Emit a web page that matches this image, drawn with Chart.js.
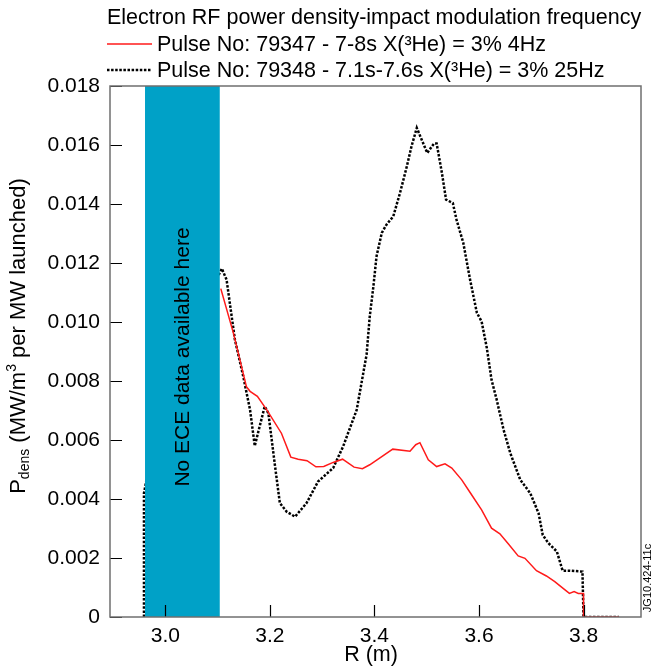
<!DOCTYPE html>
<html>
<head>
<meta charset="utf-8">
<script src="https://cdn.jsdelivr.net/npm/chart.js@4"></script>
<style>
html,body{margin:0;padding:0;background:#fff;}
#c{display:block;}
</style>
</head>
<body>
<canvas id="c" width="654" height="671"></canvas>
<script>
// ---- data ----
const chartTitle = "Electron RF power density-impact modulation frequency";
const seriesNames = ["Pulse No: 79347 - 7-8s X(\u00B3He) = 3% 4Hz", "Pulse No: 79348 - 7.1s-7.6s X(\u00B3He) = 3% 25Hz"];
const xTicks = [3.0, 3.2, 3.4, 3.6, 3.8];
const xTickLabels = ["3.0", "3.2", "3.4", "3.6", "3.8"];
const yTicks = [0, 0.002, 0.004, 0.006, 0.008, 0.010, 0.012, 0.014, 0.016, 0.018];
const yTickLabels = ["0", "0.002", "0.004", "0.006", "0.008", "0.010", "0.012", "0.014", "0.016", "0.018"];
const noDataBand = [2.961, 3.104];
const noDataText = "No ECE data available here";

const xRed = [3.106,3.130,3.155,3.162,3.176,3.194,3.222,3.240,3.254,3.271,3.288,3.303,3.321,3.339,3.361,3.377,3.391,3.414,3.435,3.468,3.479,3.487,3.503,3.519,3.535,3.548,3.567,3.583,3.605,3.624,3.640,3.656,3.675,3.688,3.710,3.729,3.745,3.761,3.773,3.782,3.790,3.800,3.800,3.868];
const yRed = [0.01113,0.00963,0.00781,0.00765,0.00748,0.00702,0.00623,0.00542,0.00535,0.00530,0.00509,0.00510,0.00524,0.00535,0.00508,0.00503,0.00516,0.00544,0.00569,0.00562,0.00584,0.00591,0.00533,0.00510,0.00519,0.00505,0.00465,0.00422,0.00363,0.00301,0.00282,0.00248,0.00207,0.00199,0.00157,0.00139,0.00120,0.00097,0.00080,0.00086,0.00080,0.00080,0,0];

const xBlack = [2.959,2.959,3.000,3.108,3.117,3.133,3.149,3.162,3.171,3.190,3.197,3.209,3.219,3.232,3.248,3.270,3.292,3.321,3.340,3.366,3.385,3.391,3.398,3.404,3.414,3.423,3.436,3.449,3.462,3.471,3.481,3.501,3.514,3.519,3.529,3.537,3.550,3.557,3.570,3.583,3.596,3.605,3.615,3.624,3.634,3.647,3.660,3.679,3.698,3.714,3.722,3.733,3.749,3.760,3.774,3.798,3.800,3.868];
const yBlack = [0,0.0042,0.0080,0.01181,0.01144,0.00940,0.00815,0.00702,0.00580,0.00714,0.00691,0.00522,0.00386,0.00357,0.00340,0.00386,0.00459,0.00505,0.00578,0.00702,0.00890,0.01019,0.01121,0.01223,0.01302,0.01330,0.01358,0.01438,0.01528,0.01596,0.01658,0.01573,0.01605,0.01605,0.01506,0.01415,0.01403,0.01347,0.01268,0.01143,0.01031,0.01002,0.00912,0.00804,0.00736,0.00635,0.00555,0.00465,0.00420,0.00352,0.00278,0.00250,0.00222,0.00157,0.00157,0.00154,0,0];

// ---- chart ----
const FONT = '"Liberation Sans", Arial, Helvetica, sans-serif';
const RED = '#ff1a1a';
const BAND = '#00a1c7';
const DOT = [2.5, 1.6];

const pts = (xs, ys) => xs.map((x, i) => ({x: x, y: ys[i]}));

const decor = {
  id: 'decor',
  afterDatasetsDraw(chart) {
    const ctx = chart.ctx, a = chart.chartArea;
    const xs = chart.scales.x, ys = chart.scales.y;
    ctx.save();
    // no-data band
    const b0 = xs.getPixelForValue(noDataBand[0]), b1 = xs.getPixelForValue(noDataBand[1]);
    ctx.fillStyle = BAND;
    ctx.fillRect(b0, a.top, b1 - b0, a.bottom - a.top);
    // inward ticks
    ctx.strokeStyle = '#000';
    ctx.lineWidth = 1.2;
    ctx.beginPath();
    xTicks.forEach(v => { const p = Math.round(xs.getPixelForValue(v)) + 0.5; ctx.moveTo(p, a.bottom); ctx.lineTo(p, a.bottom - 12); });
    yTicks.forEach(v => { const p = Math.round(ys.getPixelForValue(v)) + 0.5; ctx.moveTo(a.left, p); ctx.lineTo(a.left + 12, p); });
    ctx.stroke();
    // frame
    ctx.strokeStyle = '#6f6f6f';
    ctx.lineWidth = 1.5;
    ctx.strokeRect(a.left, a.top, a.right - a.left, a.bottom - a.top);
    // band text
    ctx.fillStyle = '#000';
    ctx.font = '21px ' + FONT;
    ctx.textAlign = 'center';
    ctx.textBaseline = 'middle';
    ctx.translate((b0 + b1) / 2 + 1, 357);
    ctx.rotate(-Math.PI / 2);
    ctx.fillText(noDataText, 0, 0);
    ctx.restore();
  },
  afterDraw(chart) {
    const ctx = chart.ctx;
    ctx.save();
    ctx.fillStyle = '#000';
    ctx.textBaseline = 'middle';
    ctx.textAlign = 'left';
    ctx.font = '21.5px ' + FONT;
    ctx.fillText(chartTitle, 107, 18);
    // legend
    ctx.fillText(seriesNames[0], 157, 45);
    ctx.fillText(seriesNames[1], 157, 71);
    ctx.strokeStyle = RED; ctx.lineWidth = 1.5;
    ctx.beginPath(); ctx.moveTo(107, 44); ctx.lineTo(152, 44); ctx.stroke();
    ctx.strokeStyle = '#000'; ctx.lineWidth = 2.5; ctx.setLineDash(DOT);
    ctx.beginPath(); ctx.moveTo(107, 70); ctx.lineTo(152, 70); ctx.stroke();
    ctx.setLineDash([]);
    // y axis title with sub/superscript
    const parts = [
      {t: 'P', s: 22, dy: 0},
      {t: 'dens', s: 14, dy: 6},
      {t: ' (MW/m', s: 22, dy: 0},
      {t: '3', s: 14, dy: -7},
      {t: ' per MW launched)', s: 22, dy: 0}
    ];
    let w = 0;
    parts.forEach(p => { ctx.font = p.s + 'px ' + FONT; p.w = ctx.measureText(p.t).width; w += p.w; });
    ctx.translate(19, 336);
    ctx.rotate(-Math.PI / 2);
    let x = -w / 2;
    parts.forEach(p => { ctx.font = p.s + 'px ' + FONT; ctx.fillText(p.t, x, p.dy); x += p.w; });
    ctx.restore();
    // x axis title
    ctx.save();
    ctx.fillStyle = '#000';
    ctx.font = '21.5px ' + FONT;
    ctx.textAlign = 'center';
    ctx.textBaseline = 'middle';
    ctx.fillText('R (m)', 371, 655);
    // figure id
    ctx.font = '11px ' + FONT;
    ctx.translate(648, 578);
    ctx.rotate(-Math.PI / 2);
    ctx.fillText('JG10.424-11c', 0, 0);
    ctx.restore();
  }
};

new Chart(document.getElementById('c'), {
  type: 'scatter',
  data: {
    datasets: [
      {label: seriesNames[0], data: pts(xRed, yRed), showLine: true, borderColor: RED, borderWidth: 1.5, pointRadius: 0, tension: 0, fill: false},
      {label: seriesNames[1], data: pts(xBlack, yBlack), showLine: true, borderColor: '#000', borderWidth: 2.5, borderDash: DOT, pointRadius: 0, tension: 0, fill: false}
    ]
  },
  options: {
    responsive: false,
    animation: false,
    devicePixelRatio: 1,
    layout: {padding: {top: 86, right: 13, left: 0, bottom: 0}},
    plugins: {legend: {display: false}, tooltip: {enabled: false}, title: {display: false}},
    scales: {
      x: {
        type: 'linear', min: 2.894, max: 3.91,
        grid: {display: false, drawTicks: false},
        border: {display: false},
        afterBuildTicks: s => { s.ticks = xTicks.map(v => ({value: v})); },
        afterFit: s => { s.height = 54; },
        ticks: {padding: 7, color: '#000', font: {family: FONT, size: 21}, maxRotation: 0, autoSkip: false,
          callback: (v) => { const i = xTicks.findIndex(t => Math.abs(t - v) < 1e-9); return i >= 0 ? xTickLabels[i] : ''; }}
      },
      y: {
        type: 'linear', min: 0, max: 0.018,
        grid: {display: false, drawTicks: false},
        border: {display: false},
        afterBuildTicks: s => { s.ticks = yTicks.map(v => ({value: v})); },
        afterFit: s => { s.width = 110; },
        ticks: {padding: 10, color: '#000', font: {family: FONT, size: 21}, autoSkip: false,
          callback: (v) => { const i = yTicks.findIndex(t => Math.abs(t - v) < 1e-9); return i >= 0 ? yTickLabels[i] : ''; }}
      }
    }
  },
  plugins: [decor]
});
</script>
</body>
</html>
